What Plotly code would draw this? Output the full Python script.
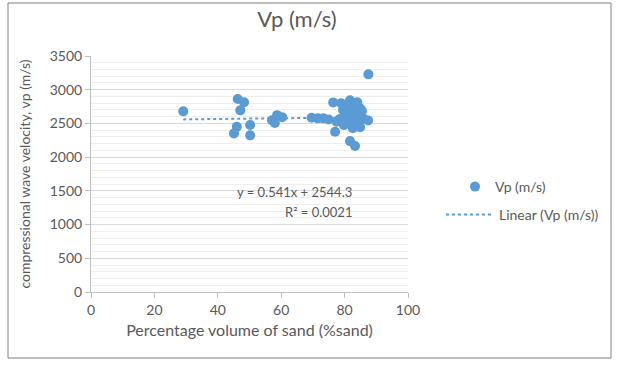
import plotly.graph_objects as go

# Data
sand_pct = [29.1, 46.3, 48.3, 47.1, 46.0, 45.1, 50.2, 50.2,
            57.1, 58.7, 60.3, 58.0,
            69.6, 71.5, 73.3, 74.9, 76.4, 77.0, 77.5, 81.7, 83.3, 87.5,
            78.9, 81.7, 79.5, 83.3, 84.9, 80.4, 82.3, 84.2, 86.1, 87.4,
            83.6, 84.9, 82.6, 80.8, 78.5, 79.8, 81.4, 83.0, 84.2, 85.5,
            82.0, 80.4, 84.0]
vp_ms = [2679, 2862, 2813, 2694, 2450, 2352, 2476, 2323,
         2548, 2623, 2593, 2506,
         2584, 2575, 2575, 2560, 2812, 2376, 2524, 2238, 2164, 3228,
         2800, 2845, 2700, 2740, 2725, 2625, 2580, 2550, 2565, 2545,
         2475, 2445, 2430, 2520, 2565, 2475, 2670, 2670, 2625, 2685,
         2760, 2745, 2815]

trend_slope = 0.541
trend_intercept = 2544.3
trend_r2 = 0.0021

x_ticks = [0, 20, 40, 60, 80, 100]
y_ticks = [0, 500, 1000, 1500, 2000, 2500, 3000, 3500]

FONT = "Lato"
GREY = "#595959"
BLUE = "#5B9BD5"

x_lo, x_hi = min(sand_pct), max(sand_pct)
trend_x = [x_lo, x_hi]
trend_y = [trend_slope * v + trend_intercept for v in trend_x]

fig = go.Figure()
fig.add_trace(go.Scatter(
    x=trend_x, y=trend_y, mode="lines", name="Linear (Vp (m/s))",
    line=dict(color=BLUE, width=2, dash="dot"), legend="legend2"))
fig.add_trace(go.Scatter(
    x=sand_pct, y=vp_ms, mode="markers", name="Vp (m/s)",
    marker=dict(color=BLUE, size=10), legend="legend"))

W, H = 621, 367
L, R, T, B = 91, 213, 56, 75
pw, ph = W - L - R, H - T - B

def px(xp):
    return (xp - L) / pw

def py(yp):
    return (H - B - yp) / ph

fig.update_layout(
    width=W, height=H,
    margin=dict(l=L, r=R, t=T, b=B, autoexpand=False),
    paper_bgcolor="white", plot_bgcolor="white",
    font=dict(family=FONT, color=GREY, size=14),
    title=dict(text="Vp (m/s)", xref="container", x=297 / W, xanchor="center",
               yref="container", y=1 - 19 / H, yanchor="middle",
               font=dict(size=22, color=GREY, family=FONT)),
    showlegend=True,
    legend=dict(x=px(455), y=py(187), xanchor="left", yanchor="middle",
                bgcolor="rgba(0,0,0,0)", font=dict(size=14, color=GREY, family=FONT)),
    legend2=dict(x=px(441), y=py(215), xanchor="left", yanchor="middle", itemwidth=48,
                 bgcolor="rgba(0,0,0,0)", font=dict(size=14, color=GREY, family=FONT)),
    xaxis=dict(range=[0, 100], tickvals=x_ticks, showgrid=False, zeroline=False,
               showline=True, linecolor="#bfbfbf", linewidth=1,
               ticks="outside", ticklen=5, tickcolor="#bfbfbf",
               tickfont=dict(size=14, color=GREY),
               title=dict(text="Percentage volume of sand (%sand)",
                          font=dict(size=16, color=GREY), standoff=8)),
    yaxis=dict(range=[0, 3500], tickvals=y_ticks, showgrid=True, gridcolor="#d9d9d9",
               gridwidth=1, zeroline=False,
               showline=True, linecolor="#bfbfbf", linewidth=1,
               ticks="outside", ticklen=5, tickcolor="#bfbfbf",
               tickfont=dict(size=14, color=GREY),
               minor=dict(dtick=100, showgrid=True, gridcolor="#efefef", ticks=""),
               title=dict(text="compressional wave velocity, vp (m/s)",
                          font=dict(size=14, color=GREY), standoff=15)),
    shapes=[dict(type="rect", xref="paper", yref="paper",
                 x0=px(8), x1=px(611), y0=py(358), y1=py(3),
                 line=dict(color="#808080", width=1))],
    annotations=[
        dict(text="y = 0.541x + 2544.3", xref="paper", yref="paper",
             x=px(354), y=py(192), xanchor="right", yanchor="middle",
             showarrow=False, font=dict(size=13, color=GREY)),
        dict(text="R² = " + str(trend_r2), xref="paper", yref="paper",
             x=px(354), y=py(212), xanchor="right", yanchor="middle",
             showarrow=False, font=dict(size=13, color=GREY)),
    ],
)

fig.write_html("out.html", config={"displayModeBar": False},
               post_script="document.body.style.margin='0';document.body.style.overflow='hidden';")
